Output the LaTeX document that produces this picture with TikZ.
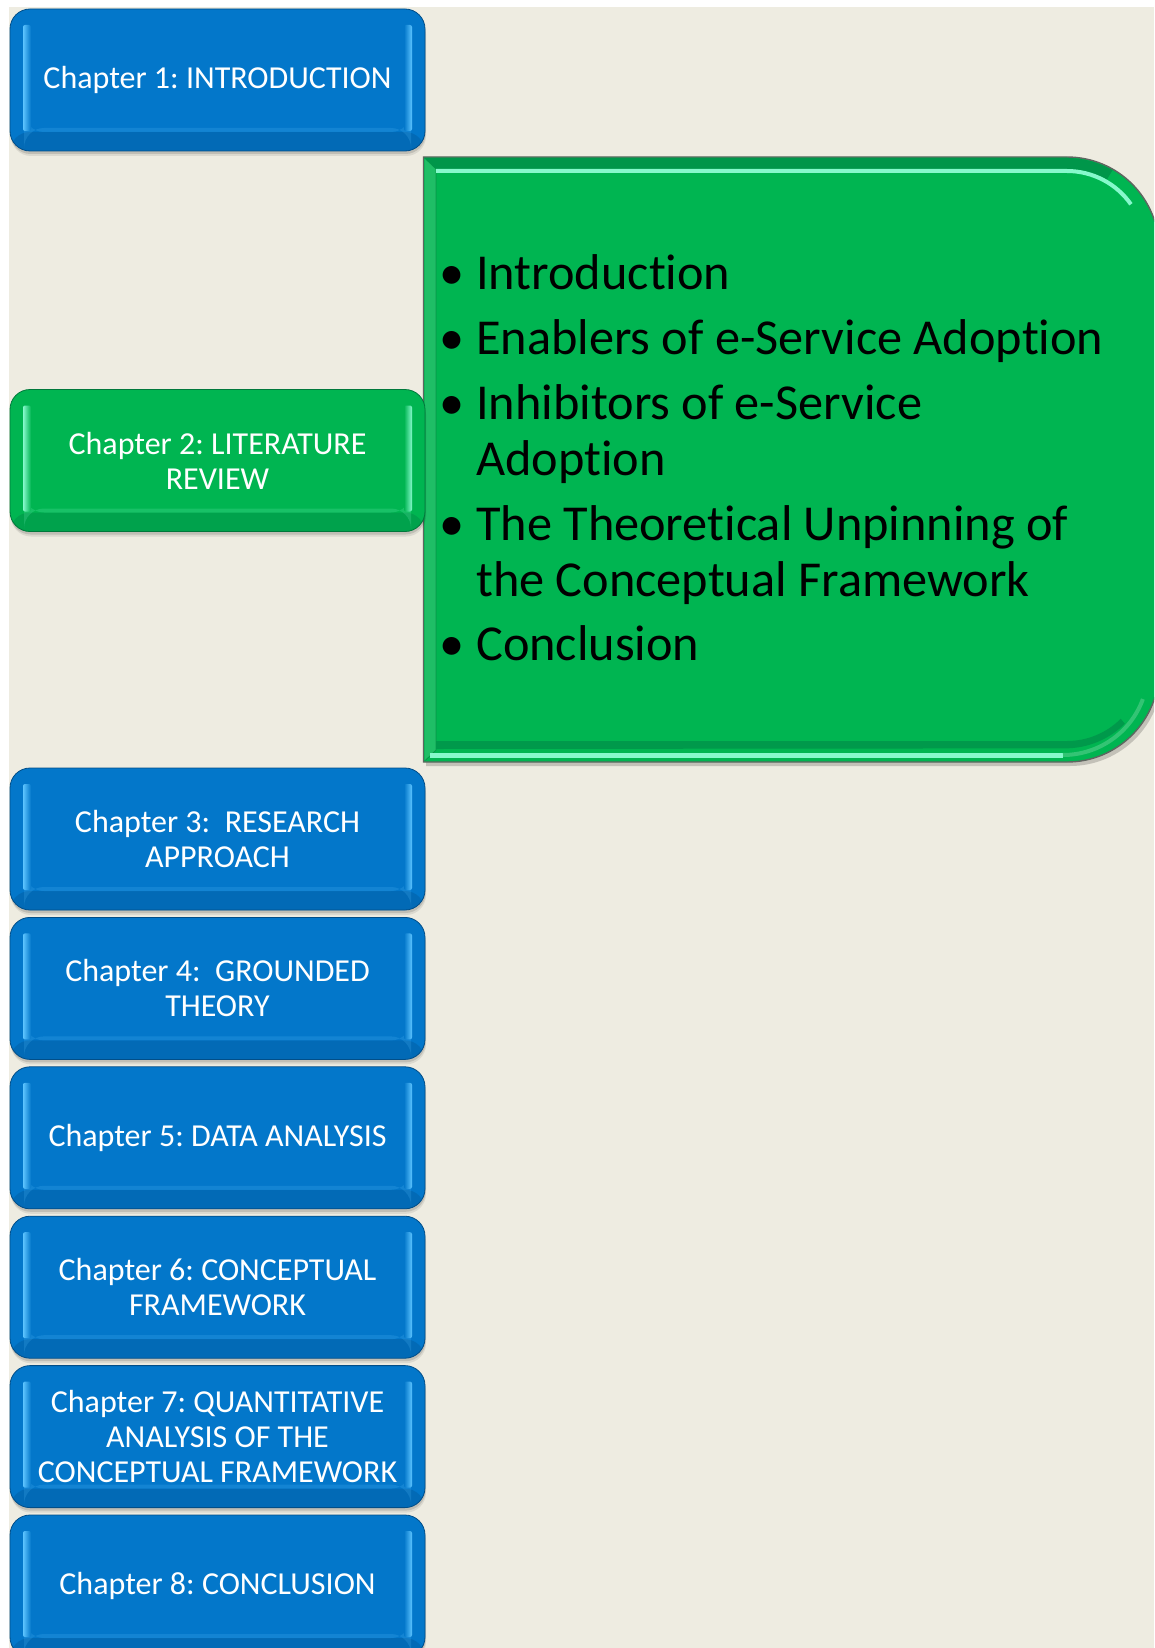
\documentclass[tikz,border=0pt]{standalone}
\usepackage{fontspec}
\setmainfont{Carlito}[Ligatures=NoCommon]
\definecolor{pagebg}{HTML}{EEECE1}
\definecolor{faceblue}{HTML}{0377CA}
\definecolor{rimblue}{HTML}{0262AA}
\definecolor{liteblue}{HTML}{5CC4FF}
\definecolor{facegreen}{HTML}{00B551}
\definecolor{rimgreen}{HTML}{00964A}
\definecolor{litegreen}{HTML}{86F9CC}
\definecolor{edgegray}{HTML}{5E6660}
\newcommand\chapfont{\frenchspacing\fontsize{32}{35}\selectfont}
\newcommand\itemfont{\frenchspacing\fontsize{50.3}{56}\selectfont}
\newcommand\bul{\llap{\makebox[48pt][c]{•}}}
\tikzset{
  chapbox/.style n args={3}{
    rectangle, rounded corners=20pt, minimum width=415pt, minimum height=142pt,
    inner sep=0pt, fill=#1, draw=#2!80!black, line width=0.8pt,
    text=white, align=center, font=\chapfont,
    path picture={
      % darker lower rim
      \fill[#2, opacity=0.6] ([yshift=19pt]path picture bounding box.south west)
        rectangle (path picture bounding box.south east);
      \fill[#3, opacity=0.18] ([xshift=14pt,yshift=19pt]path picture bounding box.south west)
        rectangle ([xshift=-14pt,yshift=23pt]path picture bounding box.south east);
      % light side edges
      \shade[left color=#3, right color=#1, rounded corners=2pt]
        ([xshift=13pt,yshift=-16pt]path picture bounding box.north west)
        rectangle ([xshift=21pt,yshift=20pt]path picture bounding box.south west);
      \shade[left color=#1, right color=#3, rounded corners=2pt]
        ([xshift=-21pt,yshift=-16pt]path picture bounding box.north east)
        rectangle ([xshift=-13pt,yshift=20pt]path picture bounding box.south east);
    }},
  bluebox/.style={chapbox={faceblue}{rimblue}{liteblue}},
  greenbox/.style={chapbox={facegreen}{rimgreen}{litegreen}},
  itemline/.style={anchor=base west, inner sep=0pt, font=\itemfont, text=black}
}
% soft shadow under a chapter box whose top edge is at #1
\newcommand\boxshadow[1]{%
  \fill[black, opacity=0.08, rounded corners=20pt] (11,#1+5) rectangle (426,#1+147);
  \fill[black, opacity=0.12, rounded corners=20pt] (10.5,#1+3) rectangle (425.5,#1+145);
}
\begin{document}
\begin{tikzpicture}[x=1pt, y=-1pt]
\useasboundingbox (0,0) rectangle (1154,1648);
\clip (0,0) rectangle (1154,1648);
\fill[white] (0,0) rectangle (1154,1648);
\fill[pagebg] (9,7.5) rectangle (1154,1648);

% expanded section panel
\fill[black, opacity=0.18] (426,161) -- (1069,161) arc[start angle=-90, end angle=0, radius=92]
  -- (1162,674) arc[start angle=0, end angle=90, radius=92] -- (426,766) -- cycle;
\fill[facegreen, draw=edgegray, line width=1.4pt] (423.5,157) -- (1067,157)
  arc[start angle=-90, end angle=0, radius=92] -- (1159,670)
  arc[start angle=0, end angle=90, radius=92] -- (423.5,762) -- cycle;
% bevel: lighter left strip, dark top band, light top line
\fill[facegreen!88!white] (424.5,158) -- (436,169) -- (436,750) -- (424.5,761) -- cycle;
\draw[rimgreen!70!black, line width=0.6pt, opacity=0.5] (424.5,158) -- (436,169) -- (436,750) -- (424.5,761);
\fill[rimgreen] (424.5,158) -- (1067,158) arc[start angle=-90, end angle=-60, radius=91]
  -- ++(-6,10) arc[start angle=-60, end angle=-90, radius=80] -- (436,169) -- cycle;
\draw[litegreen, line width=4pt] (436,171) -- (1067,171)
  arc[start angle=-90, end angle=-35, radius=78];
\draw[facegreen!75!white, line width=3pt, opacity=0.6] (1156,248) -- (1156,640);
% bevel: dark band and light line along the bottom
\fill[rimgreen!90!facegreen] (436,741) -- (1067,741) arc[start angle=90, end angle=45, radius=76]
  -- ++(4,5) arc[start angle=45, end angle=90, radius=84] -- (436,749) -- cycle;
\draw[litegreen, line width=5pt] (430,755) -- (1063,755);
\draw[facegreen!80!white, line width=4pt] (1063,755) arc[start angle=90, end angle=20, radius=85];

\node[itemline] (it1) at (476,289) {\bul Introduction};
\node[itemline] (it2) at (476,354) {\bul Enablers of e-Service Adoption};
\node[itemline] (it3a) at (476,419) {\bul Inhibitors of e-Service};
\node[itemline] (it3b) at (476,475) {Adoption};
\node[itemline] (it4a) at (476,540) {\bul The Theoretical Unpinning of};
\node[itemline] (it4b) at (476,596) {the Conceptual Framework};
\node[itemline] (it5) at (476,660) {\bul Conclusion};

% chapter boxes
\boxshadow{9}
\node[bluebox] (ch1) at (217.5,80) {Chapter 1: INTRODUCTION};
\boxshadow{389.5}
\node[greenbox] (ch2) at (217.5,460.5) {Chapter 2: LITERATURE\\REVIEW};
\boxshadow{768}
\node[bluebox] (ch3) at (217.5,839) {Chapter 3:\ \ RESEARCH\\APPROACH};
\boxshadow{917.4}
\node[bluebox] (ch4) at (217.5,988.4) {Chapter 4:\ \ GROUNDED\\THEORY};
\boxshadow{1066.8}
\node[bluebox] (ch5) at (217.5,1137.8) {Chapter 5: DATA ANALYSIS};
\boxshadow{1216.2}
\node[bluebox] (ch6) at (217.5,1287.2) {Chapter 6: CONCEPTUAL\\FRAMEWORK};
\boxshadow{1365.6}
\node[bluebox] (ch7) at (217.5,1436.6) {Chapter 7: QUANTITATIVE\\ANALYSIS OF THE\\CONCEPTUAL FRAMEWORK};
\boxshadow{1515}
\node[bluebox] (ch8) at (217.5,1586) {Chapter 8: CONCLUSION};
\end{tikzpicture}
\end{document}
